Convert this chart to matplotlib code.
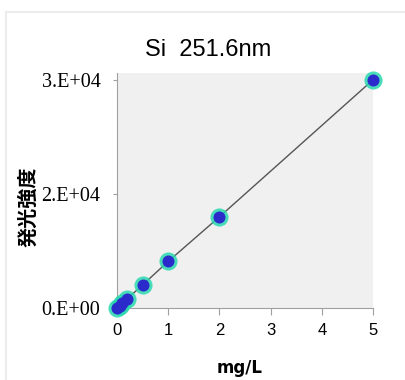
import numpy as np
import matplotlib
matplotlib.use('Agg')
import matplotlib.pyplot as plt
from matplotlib.lines import Line2D

# calibration data
conc = [0, 0.05, 0.1, 0.2, 0.5, 1, 2, 5]
intensity = [80, 330, 640, 1230, 3060, 6150, 12000, 30000]
yticks = [0, 15000, 30000]
ytick_labels = ['0.E+00', '2.E+04', '3.E+04']
xticks = [0, 1, 2, 3, 4, 5]

fig = plt.figure(figsize=(4.05, 3.8), dpi=100)
ax = fig.add_axes([0.289, 0.189, 0.632, 0.619])
ax.set_facecolor('#f0f0f0')

ax.plot(conc, intensity, color='#555555', lw=1, zorder=2)
ax.scatter(conc, intensity, s=170, color='#2ad8b0', alpha=0.85, zorder=3, clip_on=False, linewidths=0)
ax.scatter(conc, intensity, s=75, color='#2b2bcc', zorder=4, clip_on=False, linewidths=0)

ax.set_xlim(0, 5)
ax.set_ylim(0, 30900)
ax.set_xticks(xticks)
ax.set_xticklabels([str(v) for v in xticks], family='Liberation Sans', fontsize=12)
ax.set_yticks(yticks)
ax.set_yticklabels(ytick_labels, family='Liberation Serif', fontsize=14.5)

for s in ['top', 'right']:
    ax.spines[s].set_visible(False)
for s in ['left', 'bottom']:
    ax.spines[s].set_color('#a0a0a0')
ax.tick_params(axis='x', length=5, color='#a0a0a0', pad=6)
ax.tick_params(axis='y', length=3, color='#a0a0a0', pad=9)

# title sits centred on the figure rather than the plot area
fig.text(208 / 405, 1 - 50 / 380, 'Si  251.6nm', fontsize=17, family='Liberation Sans',
         ha='center', va='center')
ax.set_xlabel('mg/L', fontsize=12, fontweight='bold', family='DejaVu Sans')
ax.xaxis.set_label_coords(0.477, -0.215)
ax.set_ylabel('発光強度', fontsize=14.5, fontweight='bold', family=['Noto Sans CJK JP', 'DejaVu Sans'])
ax.yaxis.set_label_coords(-0.309, 0.43)

# faint frame around the figure
fig.add_artist(Line2D([6 / 405, 1], [1 - 12 / 380] * 2, color='#ececec', lw=1.5))
fig.add_artist(Line2D([6 / 405] * 2, [0, 1 - 12 / 380], color='#ececec', lw=1.5))

fig.savefig('out.png', dpi=100)
